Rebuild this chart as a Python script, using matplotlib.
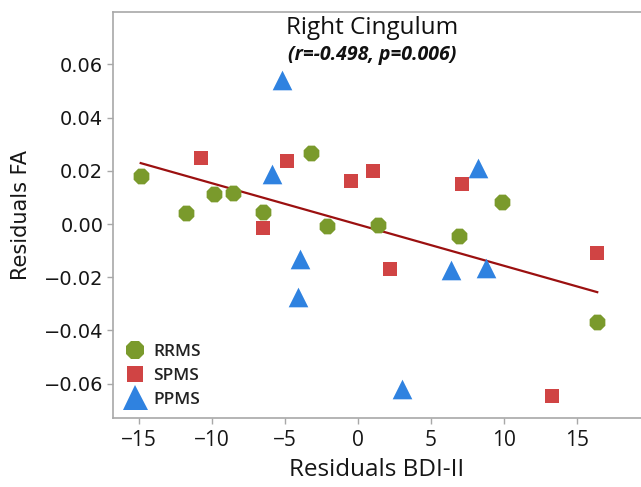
import matplotlib
matplotlib.use('Agg')
import matplotlib.pyplot as plt
from matplotlib.lines import Line2D

# values
rrms_x = [-14.9, -11.8, -9.9, -8.6, -6.5, -3.2, -2.1, 1.4, 6.9, 9.9, 16.4]
rrms_y = [0.0180, 0.0041, 0.0113, 0.0117, 0.0045, 0.0267, -0.0008, -0.0004, -0.0045, 0.0083, -0.0368]

spms_x = [-10.8, -4.9, -0.5, 1.0, 7.1, -6.5, 2.2, 16.4, 13.3]
spms_y = [0.0248, 0.0237, 0.0162, 0.0199, 0.0150, -0.0015, -0.0169, -0.0110, -0.0647]

ppms_x = [-5.2, -5.9, 8.2, -4.0, -4.1, 6.4, 8.8, 3.0]
ppms_y = [0.0540, 0.0188, 0.0211, -0.0132, -0.0274, -0.0173, -0.0165, -0.0620]

fit_x = [-14.9, 16.4]
fit_y = [0.0229, -0.0256]

xticks = [-15, -10, -5, 0, 5, 10, 15]
yticks = [-0.06, -0.04, -0.02, 0.00, 0.02, 0.04, 0.06]

green = '#7a9a2c'
red = '#d04444'
blue = '#2f82e0'
grey = '#a8a8a8'
ink = '#161616'

fig = plt.figure(figsize=(6.41, 4.87), dpi=100)
ax = fig.add_axes([0.1763, 0.1417, 0.8237, 0.8337])

ax.plot(fit_x, fit_y, color='#9b1010', lw=1.6, zorder=2)
ax.scatter(rrms_x, rrms_y, marker='8', s=150, color=green, lw=0, zorder=3)
ax.scatter(spms_x, spms_y, marker='s', s=110, color=red, lw=0, zorder=3)
ax.scatter(ppms_x, ppms_y, marker='^', s=200, color=blue, lw=0, zorder=3)

ax.set_xlim(-16.8, 19.4)
ax.set_ylim(-0.0729, 0.0797)
ax.set_xticks(xticks)
ax.set_xticklabels([f'{t}'.replace('-', '\u2212') for t in xticks], family='Open Sans', fontsize=15)
ax.set_yticks(yticks)
ax.set_yticklabels([f'{t:.2f}'.replace('-', '\u2212') for t in yticks], fontsize=14)
ax.tick_params(colors=grey, labelcolor=ink, length=4, width=1)
ax.tick_params(axis='x', pad=5)
ax.tick_params(axis='y', pad=3)

for s in ['left', 'top', 'bottom']:
    ax.spines[s].set_color(grey)
    ax.spines[s].set_linewidth(1.2)
ax.spines['right'].set_visible(False)

ax.set_xlabel('Residuals BDI-II', family='Open Sans', fontsize=17.5, color=ink, labelpad=5)
ax.set_ylabel('Residuals FA', fontsize=15, color=ink, labelpad=9)

fig.text(0.58, 0.943, 'Right Cingulum', family='Open Sans', fontsize=17.5,
         ha='center', va='center', color='#111111')
fig.text(0.58, 0.887, '(r=-0.498, p=0.006)', family='Open Sans', fontsize=14,
         style='italic', weight='bold', ha='center', va='center', color='#111111')

handles = [
    Line2D([], [], ls='', marker='8', markersize=14, color=green, mew=0),
    Line2D([], [], ls='', marker='s', markersize=11.5, color=red, mew=0),
    Line2D([], [], ls='', marker='^', markersize=18, color=blue, mew=0),
]
leg = ax.legend(handles, ['RRMS', 'SPMS', 'PPMS'], loc='lower left',
                bbox_to_anchor=(0.0, 0.0), frameon=False,
                prop={'family': 'Open Sans', 'size': 12.5, 'weight': 'semibold'},
                handletextpad=0.4, labelspacing=0.45, borderaxespad=0.2,
                handlelength=1.3)
for t in leg.get_texts():
    t.set_color('#222222')

fig.savefig('out.png', dpi=100)
